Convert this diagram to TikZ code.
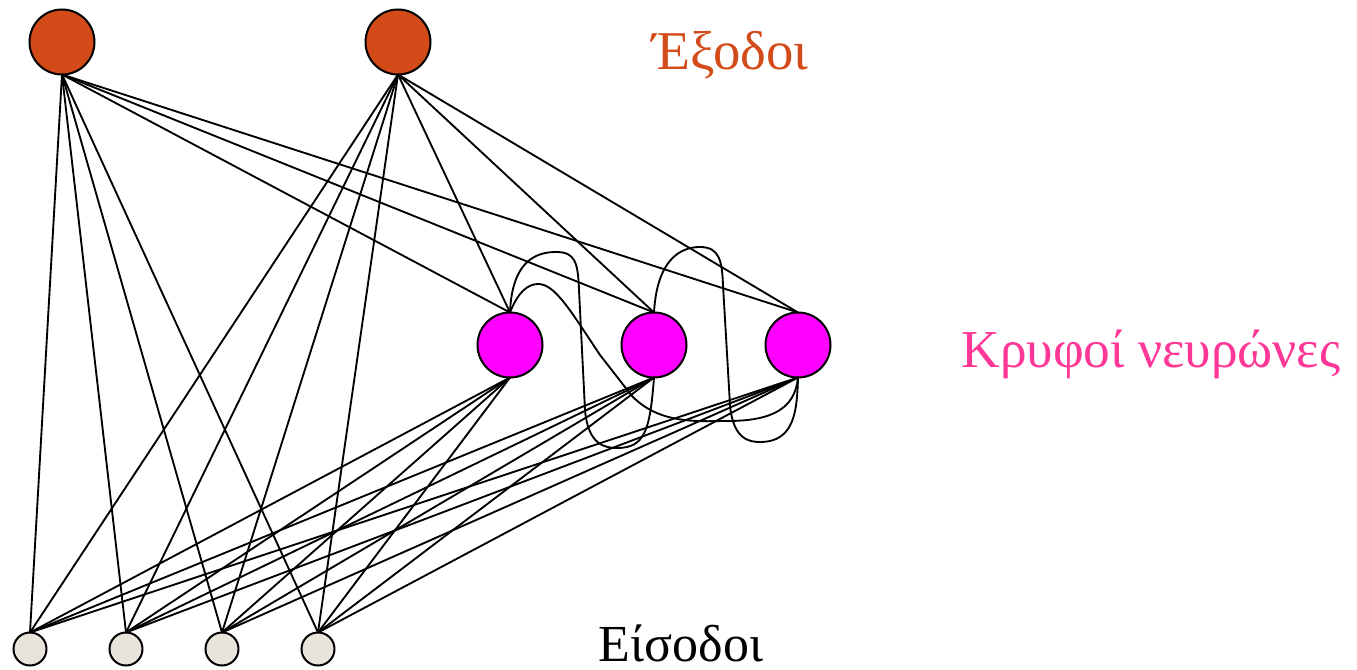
\documentclass[tikz,border=0pt]{standalone}
\usepackage{fontspec}
\setmainfont{Liberation Serif}
\usetikzlibrary{positioning}
\definecolor{outcol}{RGB}{210,75,25}
\definecolor{hidcol}{RGB}{255,0,255}
\definecolor{hidtxt}{RGB}{255,55,150}
\definecolor{inpcol}{RGB}{232,228,220}

\begin{document}
\begin{tikzpicture}
[x=0.75pt,y=-0.75pt,
 every node/.style={draw=black,line width=1.5pt,circle,inner sep=0mm,outer sep=0mm},
 outn/.style={fill=outcol,minimum size=48.75pt},
 hidn/.style={fill=hidcol,minimum size=48.75pt},
 inpn/.style={fill=inpcol,minimum size=24.75pt},
 lbl/.style={draw=none,rectangle,anchor=base},
 line width=1.4pt]
\useasboundingbox (0,0) rectangle (1357,670);
% outputs
\node[outn] (O1) at (62,42) {};
\node[outn] (O2) [on grid,right=252pt of O1] {};
% hidden neurons
\node[hidn] (H1) at (510,345) {};
\node[hidn] (H2) [on grid,right=108pt of H1] {};
\node[hidn] (H3) [on grid,right=108pt of H2] {};
% inputs
\node[inpn] (I1) at (30,649) {};
\node[inpn] (I2) [on grid,right=72pt of I1] {};
\node[inpn] (I3) [on grid,right=72pt of I2] {};
\node[inpn] (I4) [on grid,right=72pt of I3] {};
% labels
\node[lbl,text=outcol,font=\fontsize{41}{48}\selectfont] (tO) at (730.5,70) {Έξοδοι};
\node[lbl,text=hidtxt,font=\fontsize{40}{48}\selectfont] (tH) at (1151,368) {Κρυφοί νευρώνες};
\node[lbl,text=black,font=\fontsize{39}{46}\selectfont]  (tI) at (681,661)  {Είσοδοι};
% output connections
\path (O1.south) edge (I1.north) edge (I2.north) edge (I3.north) edge (I4.north)
                 edge (H1.north) edge (H2.north) edge (H3.north);
\path (O2.south) edge (I1.north) edge (I2.north) edge (I3.north) edge (I4.north)
                 edge (H1.north) edge (H2.north) edge (H3.north);
% hidden connections
\path (H1.south) edge (I1.north) edge (I2.north) edge (I3.north) edge (I4.north);
\path (H2.south) edge (I1.north) edge (I2.north) edge (I3.north) edge (I4.north);
\path (H3.south) edge (I1.north) edge (I2.north) edge (I3.north) edge (I4.north);
% recurrent loops
\draw (H1.north) .. controls (512,262) and (535,252) .. (556,252)
      .. controls (575,252) and (578,262) .. (579,290) -- (585,410)
      .. controls (588,445) and (605,448) .. (617,448)
      .. controls (645,448) and (650,430) .. (H2.south);
\draw (H1.north) .. controls (518,292) and (528,284) .. (538,284)
      .. controls (555,284) and (570,310) .. (600,355) -- (632,396)
      .. controls (660,425) and (700,421) .. (727,421)
      .. controls (770,421) and (795,410) .. (H3.south);
\draw (H2.north) .. controls (657,260) and (680,247) .. (700,247)
      .. controls (720,247) and (722,262) .. (723,285) -- (730,405)
      .. controls (733,440) and (750,442) .. (760,442)
      .. controls (795,442) and (797,410) .. (H3.south);
\end{tikzpicture}
\end{document}
